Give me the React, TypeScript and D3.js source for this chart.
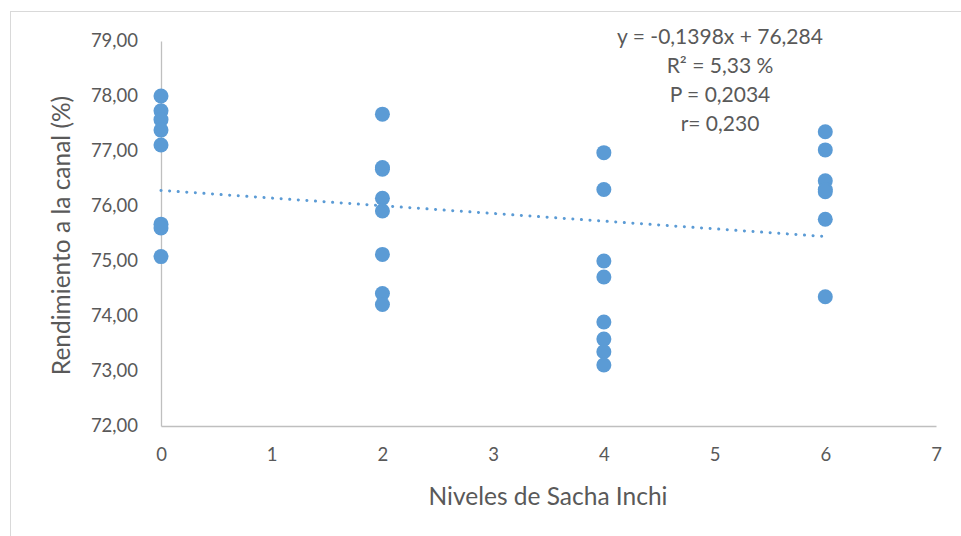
import { useEffect, useRef } from "react";
import * as d3 from "d3";

// niveles de sacha inchi (x) y rendimiento a la canal (%)
const levels = [0, 2, 4, 6];
const yieldByLevel = [
  [78.0, 77.73, 77.57, 77.38, 77.11, 75.67, 75.6, 75.08],
  [77.67, 76.7, 76.67, 76.14, 75.91, 75.12, 74.41, 74.21],
  [76.97, 76.3, 75.0, 74.71, 73.89, 73.58, 73.35, 73.11],
  [77.35, 77.02, 76.46, 76.3, 76.26, 75.76, 74.35],
];
const xTicks = [0, 1, 2, 3, 4, 5, 6, 7];
const yTicks = [72, 73, 74, 75, 76, 77, 78, 79];
const trendSlope = -0.1398;
const trendIntercept = 76.284;
const statLines = ["y = -0,1398x + 76,284", "R² = 5,33 %", "P = 0,2034", "r= 0,230"];

const App = () => {
  const svgRef = useRef<SVGSVGElement>(null);

  useEffect(() => {
    const width = 961;
    const height = 536;
    const margin = { top: 41, right: 25, bottom: 110, left: 161 };
    const innerWidth = width - margin.left - margin.right;
    const innerHeight = height - margin.top - margin.bottom;
    const font = "Lato, 'Open Sans', sans-serif";
    const textColor = "#595959";
    const blue = "#5B9BD5";

    d3.select(svgRef.current).selectAll("*").remove();
    const svg = d3.select(svgRef.current).attr("width", width).attr("height", height);

    // chart frame (cut off on right and bottom)
    svg.append("rect")
      .attr("x", 10.5)
      .attr("y", 11.5)
      .attr("width", width)
      .attr("height", height)
      .attr("fill", "white")
      .attr("stroke", "#d9d9d9");

    const g = svg.append("g").attr("transform", `translate(${margin.left},${margin.top})`);

    const x = d3.scaleLinear().domain([0, 7]).range([0, innerWidth]);
    const y = d3.scaleLinear().domain([72, 79]).range([innerHeight, 0]);

    // axes
    const yAxis = g.append("g")
      .call(d3.axisLeft(y).tickValues(yTicks).tickSize(0).tickPadding(23)
        .tickFormat((d) => d3.format(".2f")(d as number).replace(".", ",")));
    yAxis.select(".domain").attr("stroke", "#bfbfbf").attr("stroke-width", 1.3);
    yAxis.selectAll("text").attr("fill", textColor).style("font-family", font).style("font-size", "18.5px");

    const xAxis = g.append("g")
      .attr("transform", `translate(0,${innerHeight})`)
      .call(d3.axisBottom(x).tickValues(xTicks).tickSize(0).tickPadding(22).tickFormat(d3.format("d")));
    xAxis.select(".domain").attr("stroke", "#bfbfbf").attr("stroke-width", 1.3);
    xAxis.selectAll("text").attr("fill", textColor).style("font-family", font).style("font-size", "18.5px");

    // points
    const points = levels.flatMap((lv, i) => yieldByLevel[i].map((v) => ({ lv, v })));
    g.selectAll(".dot")
      .data(points)
      .enter()
      .append("circle")
      .attr("class", "dot")
      .attr("cx", (d) => x(d.lv))
      .attr("cy", (d) => y(d.v))
      .attr("r", 7.5)
      .attr("fill", blue);

    // linear trendline
    const xs = d3.extent(levels) as [number, number];
    const line = d3.line<number>()
      .x((d) => x(d))
      .y((d) => y(trendIntercept + trendSlope * d));
    g.append("path")
      .datum(xs)
      .attr("d", line)
      .attr("fill", "none")
      .attr("stroke", blue)
      .attr("stroke-width", 3)
      .attr("stroke-linecap", "round")
      .attr("stroke-dasharray", "0.1,8.5");

    // stats label
    const stats = svg.append("text")
      .attr("x", 720)
      .attr("y", 44)
      .attr("text-anchor", "middle")
      .attr("fill", textColor)
      .style("font-family", font)
      .style("font-size", "21px");
    statLines.forEach((s, i) => {
      stats.append("tspan").attr("x", 720).attr("dy", i === 0 ? 0 : 29).text(s);
    });

    // axis titles
    svg.append("text")
      .attr("transform", `translate(70,${margin.top + innerHeight / 2 + 2}) rotate(-90)`)
      .attr("text-anchor", "middle")
      .attr("fill", textColor)
      .style("font-family", font)
      .style("font-size", "24.5px")
      .text("Rendimiento a la canal (%)");

    svg.append("text")
      .attr("x", 548)
      .attr("y", 505)
      .attr("text-anchor", "middle")
      .attr("fill", textColor)
      .style("font-family", font)
      .style("font-size", "24.5px")
      .text("Niveles de Sacha Inchi");
  }, []);

  return (
    <div style={{ position: "absolute", left: 0, top: 0 }}>
      <svg ref={svgRef}></svg>
    </div>
  );
};

export default App;
